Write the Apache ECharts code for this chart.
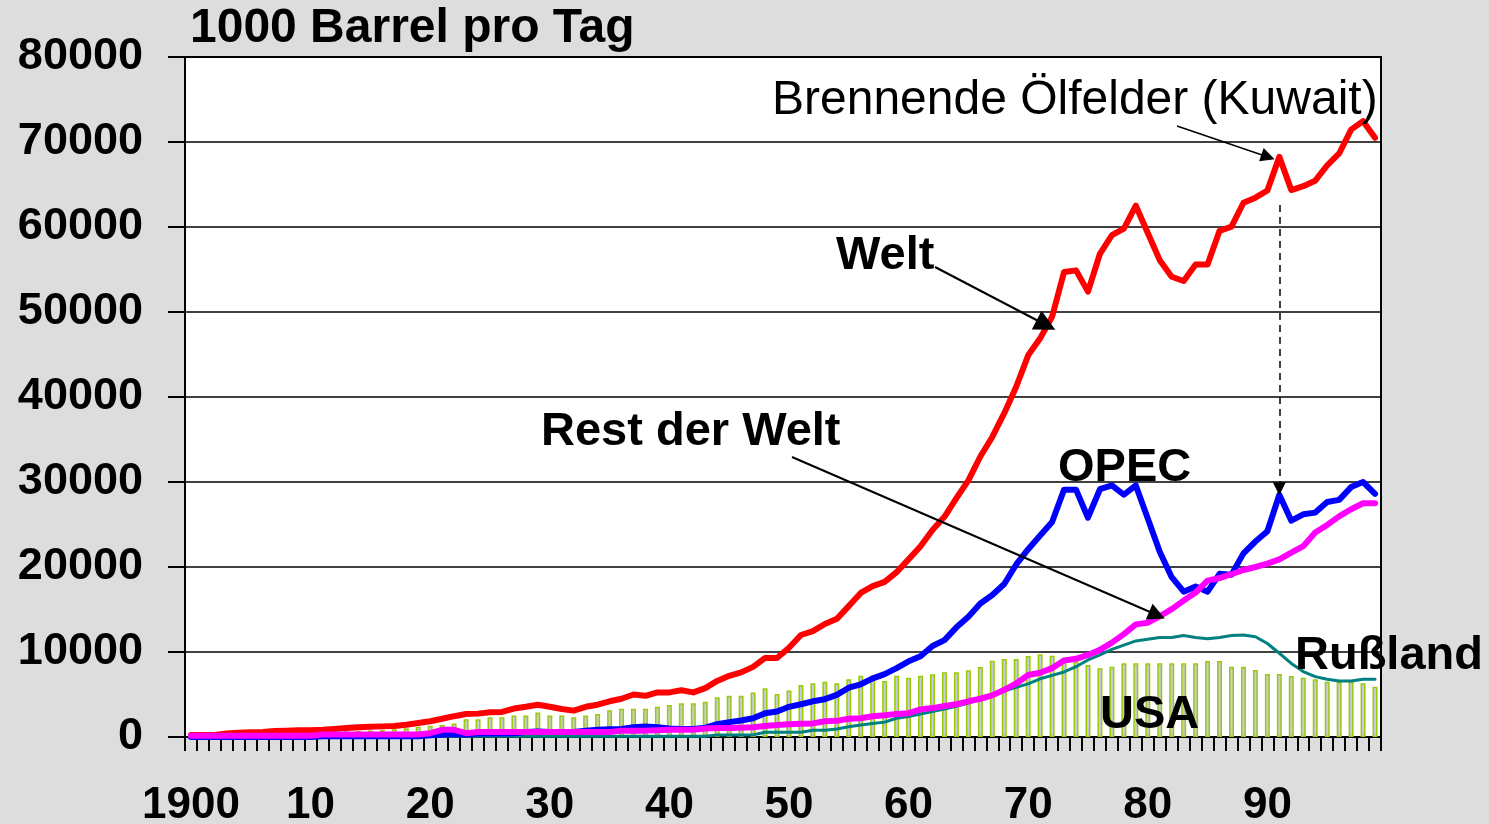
<!DOCTYPE html>
<html>
<head>
<meta charset="utf-8">
<title>Ölförderung 1900-1999</title>
<script src="https://cdn.jsdelivr.net/npm/echarts@6/dist/echarts.min.js"></script>
<style>
  html, body { margin: 0; padding: 0; background: #dddddd; }
  #chart { width: 1489px; height: 824px; }
</style>
</head>
<body>
<div id="chart"></div>
<script>
// Jahre 1900..1999 (Kategorien der x-Achse)
var years = Array.from({ length: 100 }, function (_, i) { return String(1900 + i) })
var tickLabels = ['1900', '10', '20', '30', '40', '50', '60', '70', '80', '90']

// 1000 Barrel pro Tag
var welt = [
  250, 250, 250, 400, 500, 550, 600, 700, 750, 800,
  800, 850, 950, 1050, 1150, 1200, 1250, 1300, 1450, 1650,
  1850, 2150, 2450, 2700, 2750, 2900, 2950, 3350, 3550, 3800,
  3550, 3300, 3100, 3550, 3800, 4200, 4500, 5000, 4850, 5250,
  5250, 5500, 5250, 5750, 6600, 7200, 7600, 8250, 9300, 9300,
  10500, 12000, 12450, 13300, 13900, 15400, 16950, 17750, 18250, 19400,
  20900, 22450, 24350, 25900, 28100, 30200, 33000, 35300, 38100, 41200,
  44900, 46900, 49450, 54700, 54900, 52400, 56850, 59050, 59800, 62500,
  59300, 56100, 54150, 53650, 55600, 55600, 59550, 60050, 62850, 63450,
  64300, 68250, 64350, 64800, 65450, 67250, 68650, 71450, 72450, 70500
]
var opec = [
  0, 0, 0, 0, 0, 0, 0, 0, 0, 0,
  0, 100, 100, 100, 100, 100, 100, 100, 100, 100,
  200, 300, 350, 300, 400, 400, 400, 450, 600, 650,
  600, 600, 600, 750, 850, 900, 950, 1150, 1250, 1150,
  1000, 950, 950, 1100, 1500, 1750, 1950, 2200, 2800, 3000,
  3550, 3850, 4200, 4450, 4950, 5800, 6200, 6900, 7400, 8100,
  8900, 9500, 10700, 11400, 12900, 14150, 15700, 16700, 18000, 20300,
  22100, 23700, 25300, 29100, 29100, 25800, 29150, 29600, 28500, 29600,
  25700, 21800, 18800, 17100, 17700, 17100, 19200, 19100, 21600, 23000,
  24200, 28500, 25450, 26200, 26400, 27650, 27900, 29400, 30000, 28600
]
var restDerWelt = [
  150, 150, 150, 150, 150, 150, 150, 150, 150, 150,
  150, 300, 300, 300, 300, 300, 300, 300, 300, 300,
  450, 850, 850, 450, 600, 600, 600, 600, 600, 600,
  600, 600, 600, 600, 600, 600, 750, 750, 750, 800,
  850, 850, 850, 1000, 1050, 1050, 1100, 1150, 1300, 1400,
  1500, 1550, 1600, 1850, 1900, 2150, 2200, 2450, 2550, 2700,
  2800, 3250, 3400, 3650, 3850, 4200, 4500, 4900, 5550, 6300,
  7300, 7550, 8100, 9000, 9200, 9650, 10250, 11100, 12100, 13250,
  13450, 14200, 15050, 16050, 17000, 18400, 18700, 19150, 19650, 20000,
  20400, 20900, 21700, 22450, 24050, 24950, 25950, 26800, 27500, 27500
]
var russland = [
  0, 0, 0, 0, 0, 0, 0, 0, 0, 0,
  0, 0, 0, 0, 0, 0, 0, 0, 0, 0,
  100, 100, 100, 100, 100, 100, 100, 100, 100, 100,
  100, 100, 100, 100, 100, 100, 100, 100, 100, 100,
  100, 100, 100, 100, 250, 250, 250, 250, 550, 550,
  550, 550, 800, 800, 950, 1200, 1400, 1600, 1750, 2200,
  2400, 2700, 3000, 3300, 3600, 4000, 4450, 4900, 5400, 5850,
  6250, 6850, 7250, 7650, 8270, 9060, 9650, 10300, 10800, 11300,
  11500, 11700, 11700, 11950, 11700, 11550, 11700, 11950, 12000, 11800,
  11000, 9850, 8650, 7700, 7100, 6800, 6600, 6600, 6800, 6800
]
var usa = [
  170, 190, 240, 280, 320, 370, 350, 450, 490, 500,
  570, 600, 610, 680, 730, 770, 820, 900, 1020, 1200,
  1330, 1410, 1600, 2080, 2080, 2310, 2310, 2530, 2530, 2880,
  2530, 2530, 2310, 2530, 2700, 3150, 3310, 3310, 3310, 3570,
  3760, 3960, 3960, 4160, 4670, 4860, 4860, 5250, 5730, 5060,
  5480, 6120, 6310, 6510, 6310, 6790, 7220, 7220, 6590, 7220,
  6980, 7220, 7370, 7610, 7610, 7840, 8240, 8980, 9180, 9180,
  9530, 9730, 9570, 9330, 8860, 8470, 8080, 8270, 8670, 8670,
  8670, 8670, 8670, 8670, 8670, 8940, 8940, 8270, 8270, 7880,
  7410, 7410, 7180, 6980, 6790, 6510, 6510, 6510, 6310, 5920
]

var FONT = "'Liberation Sans', Arial, sans-serif"

function note (text, x, y, weight, size) {
  return {
    type: 'text',
    x: x,
    y: y,
    z: 100,
    style: {
      text: text,
      fill: '#000',
      font: (weight || 'bold') + ' ' + (size || 47) + 'px ' + FONT,
      align: 'left',
      verticalAlign: 'middle'
    }
  }
}

function lineSeries (name, data, color, width) {
  return {
    name: name,
    type: 'line',
    data: data,
    symbol: 'none',
    smooth: false,
    lineStyle: { color: color, width: width, cap: 'round', join: 'round' },
    itemStyle: { color: color }
  }
}

var chart = echarts.init(document.getElementById('chart'))

var magenta = lineSeries('Rest der Welt', restDerWelt, '#ff00ff', 6)
magenta.markLine = {
  silent: true,
  animation: false,
  label: { show: false },
  lineStyle: { color: '#000', type: 'solid', width: 2 },
  symbol: ['none', 'triangle'],
  data: [
    [{ x: 935, y: 267 }, { x: 1046, y: 325, symbolSize: 21 }],
    [{ x: 792, y: 457 }, { x: 1157, y: 615, symbolSize: 17 }],
    [{ x: 1177, y: 126, lineStyle: { width: 1.5 } }, { x: 1268, y: 157, symbolSize: 14 }],
    [
      { coord: ['1991', 62600], lineStyle: { type: [7, 5], width: 1.5 } },
      { coord: ['1991', 29200], symbolSize: 13 }
    ]
  ]
}

chart.setOption({
  animation: false,
  backgroundColor: '#dddddd',
  grid: {
    left: 185,
    right: 108,
    top: 57,
    bottom: 87,
    show: true,
    backgroundColor: '#ffffff',
    borderColor: '#000',
    borderWidth: 2,
    containLabel: false,
    outerBoundsMode: 'none'
  },
  xAxis: {
    type: 'category',
    data: years,
    boundaryGap: true,
    axisLine: { lineStyle: { color: '#000', width: 2 } },
    axisTick: { show: true, interval: 0, length: 14, lineStyle: { color: '#000', width: 2 } },
    axisLabel: {
      interval: function (index) { return index % 10 === 0 },
      formatter: function (value, index) { return tickLabels[index / 10] || '' },
      margin: 47,
      color: '#000',
      fontSize: 44,
      fontWeight: 'bold',
      fontFamily: FONT
    },
    splitLine: { show: false }
  },
  yAxis: {
    type: 'value',
    min: 0,
    max: 80000,
    interval: 10000,
    axisLine: { show: true, lineStyle: { color: '#000', width: 2 } },
    axisTick: { show: true, length: 17, lineStyle: { color: '#000', width: 2 } },
    axisLabel: {
      margin: 42,
      color: '#000',
      fontSize: 45,
      fontWeight: 'bold',
      fontFamily: FONT,
      formatter: function (v) { return String(v) }
    },
    splitLine: { show: true, lineStyle: { color: '#000', width: 1.5 } }
  },
  series: [
    {
      name: 'USA',
      type: 'bar',
      data: usa,
      barWidth: 5,
      itemStyle: { color: '#c8c8e8', borderColor: '#99cc00', borderWidth: 1.5 }
    },
    lineSeries('Rußland', russland, '#008080', 3),
    lineSeries('OPEC', opec, '#0000ff', 6),
    lineSeries('Welt', welt, '#ff0000', 6),
    magenta
  ],
  graphic: [
    note('1000 Barrel pro Tag', 190, 29, 'bold', 48),
    note('Brennende Ölfelder (Kuwait)', 772, 101, 'normal', 48),
    note('Welt', 836, 256),
    note('Rest der Welt', 541, 432),
    note('OPEC', 1058, 468),
    note('Rußland', 1295, 656),
    note('USA', 1100, 715)
  ]
})
</script>
</body>
</html>
